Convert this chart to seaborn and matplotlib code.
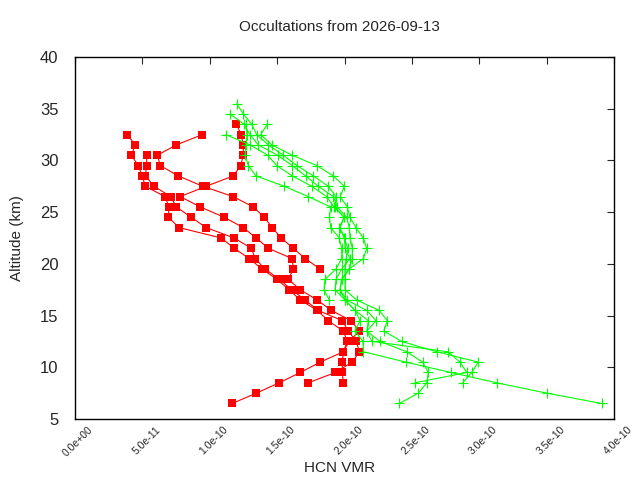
"""
HCN occultation profiles (two instruments), gnuplot-like look.
"""

import matplotlib
matplotlib.use("Agg")
import matplotlib.pyplot as plt
import matplotlib.transforms as mtransforms
import numpy as np
import pandas as pd
import seaborn as sns

# values of HCN VMR in units of 1e-10, read top-down at 1 km steps
red_tops = [32.5, 33.5, 32.5, 30.5]
red_profiles = [
    [0.945, 0.752, 0.611, 0.633, 0.767, 0.948, 1.175, 1.323, 1.405, 1.464,
     1.531, 1.620, 1.709, 1.820],
    [1.197, 1.234, 1.249, 1.249, 1.230, 1.175, 0.972, 0.781, 0.930, 1.108,
     1.249, 1.345, 1.435, 1.613, 1.620, 1.583, 1.672, 1.798, 1.902, 2.050,
     2.110, 2.033, 1.991, 1.984, 1.984, 1.991],
    [0.388, 0.447, 0.418, 0.470, 0.499, 0.522, 0.668, 0.698, 0.692, 0.774,
     1.086, 1.182, 1.294, 1.388, 1.499, 1.588, 1.672, 1.798, 1.880, 1.991,
     2.021, 1.991, 1.820, 1.672, 1.516, 1.345, 1.167],
    [0.532, 0.532, 0.522, 0.588, 0.710, 0.752, 0.863, 0.974, 1.182, 1.309,
     1.338, 1.410, 1.518, 1.607, 1.709, 1.804, 1.984, 2.028, 2.088, 2.110,
     2.058, 1.932, 1.731],
]

green_tops = [35.5, 34.5, 33.5, 32.5, 33.5]
green_profiles = [
    [1.200, 1.249, 1.311, 1.348, 1.435, 1.546, 1.646, 1.769, 1.880, 1.937,
     1.930, 1.996, 1.967, 1.996, 2.026, 2.011, 2.004, 2.004, 2.004, 2.090,
     2.258, 2.317, 2.293, 2.424, 2.684, 2.993, 2.944, 2.877],
    [1.150, 1.254, 1.299, 1.360, 1.504, 1.613, 1.712, 1.806, 1.917, 1.947,
     2.016, 2.036, 2.041, 2.058, 2.058, 2.036, 1.979, 1.967, 2.016, 2.165,
     2.234, 2.165, 2.263, 2.462, 2.580, 2.622, 2.610, 2.548, 2.407],
    [1.427, 1.378, 1.460, 1.613, 1.794, 1.917, 1.999, 1.967, 2.021, 2.041,
     2.085, 2.139, 2.165, 2.139, 2.033, 1.979, 1.967, 2.004, 2.078, 2.115,
     2.078, 2.137, 2.140, 2.456, 2.788, 3.130, 3.501, 3.909],
    [1.118, 1.299, 1.430, 1.497, 1.613, 1.757, 1.868, 1.922, 1.999, 1.961,
     2.004, 2.004, 2.041, 1.979, 1.937, 1.930, 2.004, 2.078, 2.177, 2.165,
     2.204, 2.768, 2.857, 2.907, 2.523],
    [1.269, 1.276, 1.269, 1.262, 1.286, 1.343, 1.553, 1.731, 1.898, 1.888,
     1.898, 1.961, 1.979, 1.979, 1.937, 1.855, 1.848, 1.887],
]

x_ticks = [0.0, 0.5e-10, 1.0e-10, 1.5e-10, 2.0e-10, 2.5e-10, 3.0e-10,
           3.5e-10, 4.0e-10]
y_ticks = [5, 10, 15, 20, 25, 30, 35, 40]


def to_frame(tops, profiles):
    rows = []
    for i, (top, vals) in enumerate(zip(tops, profiles)):
        for k, v in enumerate(vals):
            rows.append({"profile": i, "alt": top - k, "vmr": v * 1e-10})
    return pd.DataFrame(rows)


red_df = to_frame(red_tops, red_profiles)
green_df = to_frame(green_tops, green_profiles)

sns.set_style("white")
plt.rcParams["font.family"] = ["Liberation Sans", "DejaVu Sans"]

fig = plt.figure(figsize=(6.4, 4.8), dpi=100)
ax = fig.add_axes([75 / 640, 61 / 480, 539 / 640, 362 / 480])

sns.lineplot(data=red_df, x="vmr", y="alt", units="profile", estimator=None,
             sort=False, color="#ff0000", marker="s", markersize=6,
             markeredgewidth=0, markeredgecolor="#ff0000", linewidth=0.8,
             ax=ax)
sns.lineplot(data=green_df, x="vmr", y="alt", units="profile", estimator=None,
             sort=False, color="#00ff00", marker="+", markersize=7,
             markeredgewidth=0.8, markeredgecolor="#00ff00", linewidth=0.8,
             ax=ax)

ax.set_xlim(0, 4e-10)
ax.set_ylim(5, 40)
ax.set_xticks(x_ticks)
ax.set_xticklabels([f"{t:.1e}" for t in x_ticks], rotation=45, ha="right",
                   va="top", rotation_mode="anchor", fontsize=7.5)
ax.set_yticks(y_ticks)
ax.set_yticklabels([str(t) for t in y_ticks], fontsize=12)
ax.tick_params(direction="in", top=True, right=True, length=5, width=0.8)
ax.tick_params(axis="x", pad=6)
ax.tick_params(axis="y", pad=12)

# gnuplot puts rotated labels a bit to the right of the tick
shift = mtransforms.ScaledTranslation(0.13, 0.03, fig.dpi_scale_trans)
for lab in ax.get_xticklabels():
    lab.set_transform(lab.get_transform() + shift)

for s in ax.spines.values():
    s.set_linewidth(1)
    s.set_color("black")

ax.set_xlabel("HCN VMR", fontsize=11)
ax.set_ylabel("Altitude (km)", fontsize=11)
ax.xaxis.set_label_coords(0.49, -0.115)
ax.yaxis.set_label_coords(-0.095, 0.5)
fig.text(0.531, 1 - 27 / 480, "Occultations from 2026-09-13", ha="center",
         va="center", fontsize=11)

plt.savefig("out.png", dpi=100)
